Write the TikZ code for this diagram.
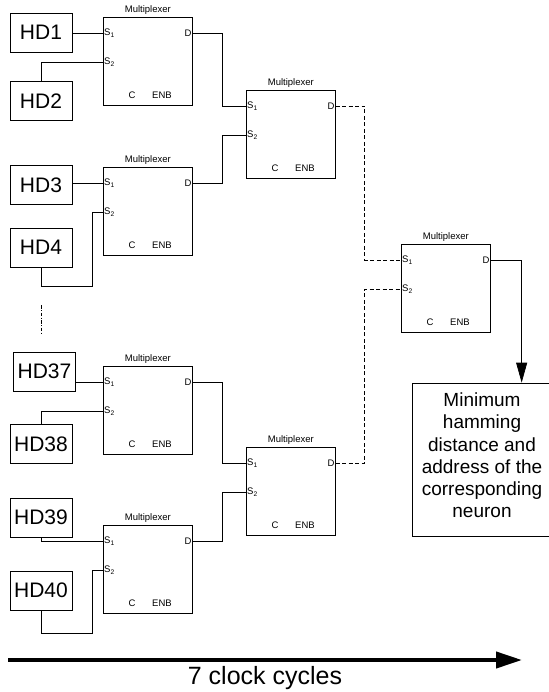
\documentclass[tikz,border=0pt]{standalone}
\usepackage{fontspec}
\setmainfont{Liberation Sans}
\usetikzlibrary{calc,arrows.meta}
\tikzset{
  wire/.style={line width=0.7pt},
  dwire/.style={line width=0.9pt, dash pattern=on 4pt off 2.5pt},
  hdbox/.style={draw, line width=0.7pt, minimum width=62pt, minimum height=39pt, inner sep=0pt, font=\fontsize{21}{24}\selectfont},
  muxn/.style={draw, line width=0.7pt, anchor=north west, minimum width=89pt, minimum height=88pt, inner sep=0pt},
  small/.style={inner sep=1pt, font=\fontsize{9.5}{11}\selectfont},
}
\newcommand{\muxbox}[3]{%
  \node[muxn] (#1) at (#2,#3) {};
  \node[small, anchor=south] (#1-t) at ($(#1.north)+(0,-1)$) {Multiplexer};
  \coordinate (#1-s1) at ($(#1.north west)+(0,16)$);
  \coordinate (#1-s2) at ($(#1.north west)+(0,45)$);
  \coordinate (#1-d) at ($(#1.north east)+(0,16)$);
  \node[small, anchor=west] (#1-ls1) at (#1-s1) {S\textsubscript{1}};
  \node[small, anchor=west] (#1-ls2) at (#1-s2) {S\textsubscript{2}};
  \node[small, anchor=east] (#1-ld) at (#1-d) {D};
  \node[small] (#1-c) at ($(#1.north west)+(29,78)$) {C};
  \node[small] (#1-e) at ($(#1.north west)+(59,78)$) {ENB};
}
\begin{document}
\begin{tikzpicture}[x=1pt,y=-1pt]
\useasboundingbox (0,0) rectangle (548,692);
% input boxes
\node[hdbox] (hd1) at (41,32.5) {HD1};
\node[hdbox] (hd2) at (41,101) {HD2};
\node[hdbox] (hd3) at (41,185) {HD3};
\node[hdbox] (hd4) at (41,247.5) {HD4};
\node[hdbox] (hd37) at (44.5,371.5) {HD37};
\node[hdbox] (hd38) at (41,444) {HD38};
\node[hdbox] (hd39) at (41,517.5) {HD39};
\node[hdbox] (hd40) at (41,590.5) {HD40};
% multiplexers
\muxbox{m1}{103}{17}
\muxbox{m3}{103}{167}
\muxbox{m37}{103}{366}
\muxbox{m39}{103}{525}
\muxbox{mA}{246}{90}
\muxbox{mB}{246}{447}
\muxbox{mC}{401}{244}
% result box
\node[draw, line width=0.7pt, minimum width=140pt, minimum height=153pt] (res) at (482,459.5) {};
\node[align=center, inner sep=0pt, font=\fontsize{19}{22.2}\selectfont] (restext) at ($(res.center)+(0,-4)$)
  {Minimum\\hamming\\distance and\\address of the\\corresponding\\neuron};
\coordinate (resin) at ($(res.north west)+(110,0)$);
% inputs
\draw[wire] (hd1.east |- m1-s1) -- (m1-s1);
\draw[wire] (hd2.north) |- (m1-s2);
\draw[wire] (hd3.east |- m3-s1) -- (m3-s1);
\draw[wire] (hd4.south) |- ($(m3-s2)+(-11,74)$) |- (m3-s2);
\draw[wire] (hd37.east |- m37-s1) -- (m37-s1);
\draw[wire] (hd38.north) |- (m37-s2);
\draw[wire] (hd39.south) |- (m39-s1);
\draw[wire] (hd40.south) |- ($(m39-s2)+(-11,63)$) |- (m39-s2);
\coordinate (v1) at (41,305);
\coordinate (v2) at (41,335);
\draw[line width=0.5pt, dash pattern=on 3.5pt off 1.5pt on 1pt off 1.5pt] (v1) -- (v2);
% level 2
\draw[wire] (m1-d) -- ++(30,0) |- (mA-s1);
\draw[wire] (m3-d) -- ++(30,0) |- (mA-s2);
\draw[wire] (m37-d) -- ++(30,0) |- (mB-s1);
\draw[wire] (m39-d) -- ++(30,0) |- (mB-s2);
% level 3
\draw[dwire] (mA-d) -- ++(29,0) |- (mC-s1);
\draw[dwire] (mB-d) -- ++(29,0) |- (mC-s2);
% output
\draw[wire, -{Triangle[length=20pt,width=11pt]}] (mC-d) -| (resin);
% clock arrow
\coordinate (ar1) at (8,660);
\coordinate (ar2) at (522,660);
\draw[line width=4pt, -{Triangle[length=26pt,width=16pt]}] (ar1) -- (ar2);
\node[font=\fontsize{25}{28}\selectfont, inner sep=0pt] (clk) at (265,678) {7 clock cycles};
\end{tikzpicture}
\end{document}
